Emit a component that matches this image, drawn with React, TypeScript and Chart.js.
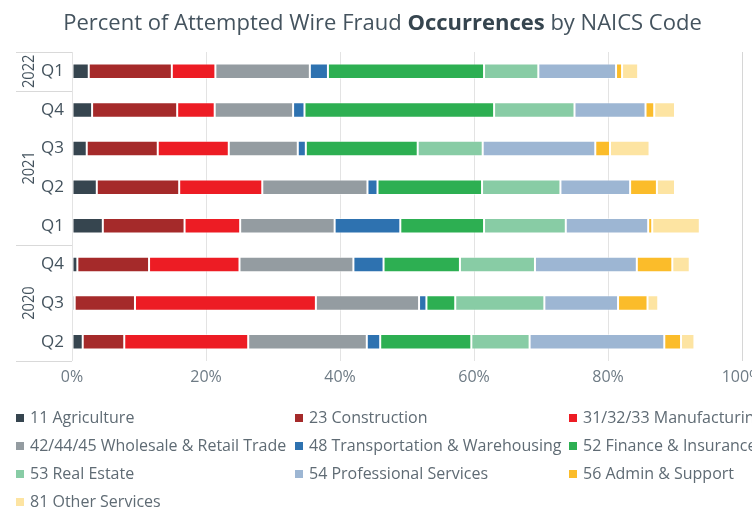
import React, { useEffect, useRef } from "react";
import { Chart, registerables } from "chart.js";

Chart.register(...registerables);

const quarterLabels = ["Q1", "Q4", "Q3", "Q2", "Q1", "Q4", "Q3", "Q2"];
const yearLabels = ["2022", "2021", "2021", "2021", "2021", "2020", "2020", "2020"];

const seriesNames = [
  "11 Agriculture",
  "23 Construction",
  "31/32/33 Manufacturing",
  "42/44/45 Wholesale & Retail Trade",
  "48 Transportation & Warehousing",
  "52 Finance & Insurance",
  "53 Real Estate",
  "54 Professional Services",
  "56 Admin & Support",
  "81 Other Services",
];

const agriculture = [2.5, 3.0, 2.2, 3.7, 4.6, 0.8, 0.4, 1.6];
const construction = [12.4, 12.7, 10.6, 12.3, 12.2, 10.7, 9.0, 6.2];
const manufacturing = [6.5, 5.6, 10.6, 12.4, 8.3, 13.5, 27.0, 18.5];
const wholesaleRetail = [14.1, 11.7, 10.3, 15.7, 14.1, 17.0, 15.4, 17.7];
const transportation = [2.7, 1.7, 1.2, 1.5, 9.8, 4.5, 1.1, 2.0];
const financeInsurance = [23.3, 28.3, 16.7, 15.6, 12.5, 11.4, 4.3, 13.6];
const realEstate = [8.1, 12.0, 9.7, 11.7, 12.2, 11.2, 13.3, 8.7];
const professional = [11.6, 10.6, 16.8, 10.4, 12.3, 15.2, 11.0, 20.1];
const adminSupport = [0.9, 1.3, 2.2, 4.0, 0.6, 5.3, 4.4, 2.5];
const otherServices = [2.4, 3.1, 5.9, 2.7, 7.1, 2.6, 1.6, 2.0];

const seriesValues = [
  agriculture,
  construction,
  manufacturing,
  wholesaleRetail,
  transportation,
  financeInsurance,
  realEstate,
  professional,
  adminSupport,
  otherServices,
];

const seriesColors = [
  "#36454f",
  "#a52a2a",
  "#ed1c24",
  "#949ca1",
  "#2e72b0",
  "#2daf52",
  "#88cca5",
  "#9db6d3",
  "#fbbc2a",
  "#fde4a2",
];

const xTickValues = [0, 20, 40, 60, 80, 100];

const FONT = "'Open Sans', 'Noto Sans', sans-serif";
const YEAR_SCALE = 0.86;

const decorPlugin = {
  id: "decor",
  afterDraw(chart: any) {
    const ctx = chart.ctx as CanvasRenderingContext2D;
    const y = chart.scales.y;
    const area = chart.chartArea;

    // Group lines on the category axis
    ctx.save();
    ctx.strokeStyle = "#d9d9d9";
    ctx.lineWidth = 1;
    const boundaries: number[] = [];
    for (let i = 0; i <= yearLabels.length; i++) {
      if (i === 0 || i === yearLabels.length || yearLabels[i] !== yearLabels[i - 1]) {
        boundaries.push(i);
      }
    }
    const bpx = (i: number) => {
      if (i === 0) return area.top;
      if (i === yearLabels.length) return area.bottom;
      return (y.getPixelForValue(i - 1) + y.getPixelForValue(i)) / 2;
    };
    boundaries.forEach((b) => {
      const py = Math.round(bpx(b)) + 0.5;
      ctx.beginPath();
      ctx.moveTo(16, py);
      ctx.lineTo(area.left, py);
      ctx.stroke();
    });

    // Year labels
    ctx.fillStyle = "#44535e";
    ctx.font = `17px ${FONT}`;
    ctx.textAlign = "center";
    ctx.textBaseline = "middle";
    for (let k = 0; k < boundaries.length - 1; k++) {
      const a = boundaries[k];
      const b = boundaries[k + 1];
      const cy = (bpx(a) + bpx(b)) / 2;
      ctx.save();
      ctx.translate(28, cy);
      ctx.rotate(-Math.PI / 2);
      ctx.scale(YEAR_SCALE, 1);
      ctx.fillText(yearLabels[a], 0, 1);
      ctx.restore();
    }

    // Title
    const t1 = "Percent of Attempted Wire Fraud ";
    const t2 = "Occurrences";
    const t3 = " by NAICS Code";
    ctx.textAlign = "left";
    ctx.textBaseline = "alphabetic";
    const reg = `22px ${FONT}`;
    const bold = `bold 22px ${FONT}`;
    ctx.font = reg;
    const w1 = ctx.measureText(t1).width;
    const w3 = ctx.measureText(t3).width;
    ctx.font = bold;
    const w2 = ctx.measureText(t2).width;
    const total = w1 + w2 + w3;
    const startX = 382.5 - total / 2;
    const baseY = 29.5;
    ctx.fillStyle = "#44535e";
    ctx.font = reg;
    ctx.fillText(t1, startX, baseY);
    ctx.fillStyle = "#36454f";
    ctx.font = bold;
    ctx.fillText(t2, startX + w1, baseY);
    ctx.fillStyle = "#44535e";
    ctx.font = reg;
    ctx.fillText(t3, startX + w1 + w2, baseY);

    // Legend
    const colX = [16, 295, 569];
    const rowY = [418, 446, 474, 502];
    ctx.font = `16px ${FONT}`;
    ctx.textBaseline = "middle";
    seriesNames.forEach((name, i) => {
      const c = i % 3;
      const r = Math.floor(i / 3);
      const sx = colX[c];
      const sy = rowY[r];
      ctx.fillStyle = seriesColors[i];
      ctx.fillRect(sx, sy - 4, 8, 8);
      ctx.fillStyle = "#5f6b74";
      ctx.fillText(name, sx + 14, sy);
    });

    ctx.restore();
  },
};

export default function App() {
  const ref = useRef<HTMLCanvasElement | null>(null);

  useEffect(() => {
    document.body.style.margin = "0";
    const canvas = ref.current;
    if (!canvas) return;
    const chart = new Chart(canvas, {
      type: "bar",
      data: {
        labels: quarterLabels,
        datasets: seriesValues.map((vals, i) => ({
          label: seriesNames[i],
          data: vals,
          backgroundColor: seriesColors[i],
          borderColor: "rgba(255,255,255,0.45)",
          borderWidth: 1,
          borderSkipped: false,
          barPercentage: 0.4,
          categoryPercentage: 1,
        })),
      },
      options: {
        indexAxis: "y",
        responsive: false,
        animation: false,
        devicePixelRatio: 1,
        layout: { padding: { top: 52, right: 10, bottom: 120, left: 0 } },
        plugins: {
          legend: { display: false },
          title: { display: false },
          tooltip: { enabled: false },
        },
        scales: {
          x: {
            stacked: true,
            min: 0,
            max: 100,
            afterBuildTicks: (scale: any) => {
              scale.ticks = xTickValues.map((v) => ({ value: v }));
            },
            ticks: {
              callback: (v: any) => `${v}%`,
              color: "#6e7b85",
              font: { family: FONT, size: 16 },
              padding: 7,
              maxRotation: 0,
            },
            grid: {
              color: (c: any) => (c.tick && c.tick.value === 100 ? "#d6d6d6" : "#e3e3e3"),
              drawTicks: false,
            },
            border: { display: false },
            afterFit: (scale: any) => {
              scale.height = 30;
              scale.paddingLeft = 0;
              scale.paddingRight = 0;
            },
          },
          y: {
            stacked: true,
            ticks: {
              color: "#44535e",
              font: { family: FONT, size: 17 },
              padding: 8,
            },
            grid: { display: false, drawTicks: false },
            border: { display: false },
            afterFit: (scale: any) => {
              scale.width = 72;
            },
          },
        },
      },
      plugins: [decorPlugin],
    });
    return () => chart.destroy();
  }, []);

  return (
    <div style={{ position: "absolute", left: 0, top: 0, width: 752, height: 511, background: "#fff" }}>
      <canvas ref={ref} width={752} height={511} style={{ width: 752, height: 511, display: "block" }} />
    </div>
  );
}
